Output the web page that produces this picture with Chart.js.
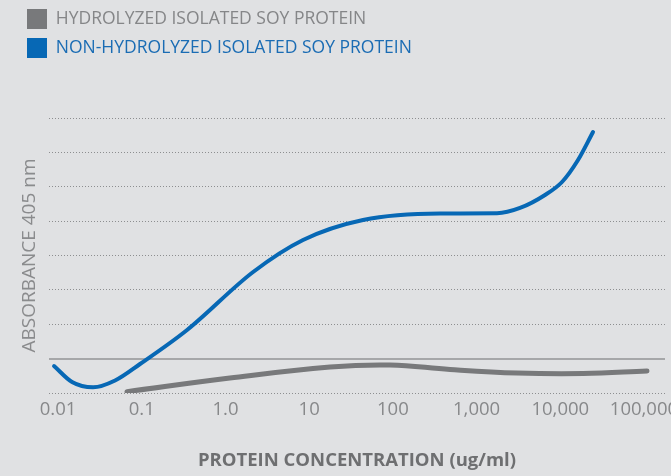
<!DOCTYPE html>
<html>
<head>
<meta charset="utf-8">
<script src="https://cdn.jsdelivr.net/npm/chart.js@4.4.1/dist/chart.umd.min.js"></script>
<style>
  html, body { margin: 0; padding: 0; background: #e0e1e3; }
  #wrap { width: 671px; height: 476px; }
</style>
</head>
<body>
<div id="wrap"><canvas id="chart" width="671" height="476"></canvas></div>
<script>
// --- Data ---
const seriesNames = ['HYDROLYZED ISOLATED SOY PROTEIN', 'NON-HYDROLYZED ISOLATED SOY PROTEIN'];
const xTickValues = [0.01, 0.1, 1, 10, 100, 1000, 10000, 100000];
const xTickLabels = ['0.01', '0.1', '1.0', '10', '100', '1,000', '10,000', '100,000'];
const yGridValues = [0, 1, 2, 3, 4, 5, 6, 7, 8];

// hydrolyzed (grey) curve
const hydroX = [0.0667, 1.13, 17.8, 92.5, 482, 3043, 18700, 108700];
const hydroY = [0.04, 0.436, 0.756, 0.815, 0.684, 0.582, 0.567, 0.64];

// non-hydrolyzed (blue) curve
const nonHydroX = [0.00896, 0.0147, 0.0262, 0.048, 0.0954, 0.348, 2.14, 8.45, 44, 366, 1755, 3304, 6572, 10490, 16290, 24610];
const nonHydroY = [0.785, 0.32, 0.166, 0.364, 0.844, 1.833, 3.52, 4.451, 5.033, 5.222, 5.228, 5.382, 5.76, 6.138, 6.778, 7.593];

// --- Styles ---
const FONT = 'Open Sans';
const GREY_LINE = '#78797b';
const BLUE_LINE = '#0768b5';
const legendTextColors = ['#858688', '#1a6cb4'];

Chart.defaults.font.family = FONT;

function toPoints(xs, ys) {
    return xs.map((x, i) => ({ x: x, y: ys[i] }));
}

// Push the plot area down below the two legend rows
const legendSpacer = {
    id: 'legendSpacer',
    beforeInit(chart) {
        const origFit = chart.legend.fit;
        chart.legend.fit = function () {
            origFit.call(this);
            this.height = 118;
        };
    }
};

// Solid reference line at y = 1
const baseLine = {
    id: 'baseLine',
    beforeDatasetsDraw(chart) {
        const { ctx, chartArea, scales } = chart;
        const y = Math.round(scales.y.getPixelForValue(1));
        ctx.save();
        ctx.strokeStyle = '#a6a7a9';
        ctx.lineWidth = 2;
        ctx.beginPath();
        ctx.moveTo(chartArea.left, y);
        ctx.lineTo(chartArea.right, y);
        ctx.stroke();
        ctx.restore();
    }
};

new Chart(document.getElementById('chart'), {
    type: 'line',
    data: {
        datasets: [{
            label: seriesNames[0],
            data: toPoints(hydroX, hydroY),
            borderColor: GREY_LINE,
            backgroundColor: GREY_LINE,
            borderWidth: 5,
            borderCapStyle: 'round',
            pointRadius: 0,
            tension: 0.4,
            fill: false
        }, {
            label: seriesNames[1],
            data: toPoints(nonHydroX, nonHydroY),
            borderColor: BLUE_LINE,
            backgroundColor: BLUE_LINE,
            borderWidth: 4,
            borderCapStyle: 'round',
            pointRadius: 0,
            cubicInterpolationMode: 'monotone',
            fill: false
        }]
    },
    options: {
        responsive: false,
        animation: false,
        layout: { padding: { left: 18, right: 6, top: 0, bottom: 0 } },
        plugins: {
            tooltip: { enabled: false },
            legend: {
                position: 'top',
                align: 'start',
                labels: {
                    boxWidth: 20,
                    boxHeight: 20,
                    padding: 9,
                    font: { size: 17.5 },
                    generateLabels(chart) {
                        return chart.data.datasets.map((ds, i) => ({
                            text: ds.label,
                            fillStyle: ds.borderColor,
                            strokeStyle: ds.borderColor,
                            lineWidth: 0,
                            fontColor: legendTextColors[i],
                            hidden: false,
                            datasetIndex: i
                        }));
                    }
                }
            }
        },
        scales: {
            x: {
                type: 'logarithmic',
                min: 0.0078,
                max: 178300,
                afterBuildTicks(scale) {
                    scale.ticks = xTickValues.map(v => ({ value: v }));
                },
                afterFit(scale) {
                    scale.paddingLeft = 0;
                    scale.paddingRight = 0;
                },
                ticks: {
                    autoSkip: false,
                    maxRotation: 0,
                    padding: 6,
                    color: '#87888a',
                    font: { size: 18.5 },
                    callback: (value, index) => xTickLabels[index]
                },
                grid: { display: false, drawTicks: false },
                border: { display: false },
                title: {
                    display: true,
                    text: 'PROTEIN CONCENTRATION (ug/ml)',
                    color: '#6e6f71',
                    font: { size: 18.5, weight: 'bold' },
                    padding: { top: 22.7, bottom: 3.9 }
                }
            },
            y: {
                min: 0,
                max: 8,
                afterBuildTicks(scale) {
                    scale.ticks = yGridValues.map(v => ({ value: v }));
                },
                ticks: { display: false },
                grid: {
                    drawTicks: false,
                    lineWidth: 1,
                    color: ctx => (ctx.tick && ctx.tick.value === 1) ? 'rgba(0,0,0,0)' : '#8d8e90'
                },
                border: { display: false, dash: [1, 2] },
                title: {
                    display: true,
                    text: 'ABSORBANCE 405 nm',
                    color: '#8a8b8d',
                    font: { size: 19 },
                    padding: { top: 0.6, bottom: 7.6 }
                }
            }
        }
    },
    plugins: [legendSpacer, baseLine]
});
</script>
</body>
</html>
